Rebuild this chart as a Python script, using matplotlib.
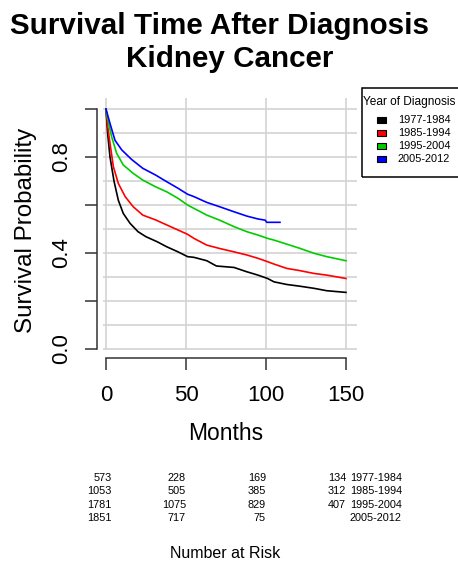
import matplotlib
matplotlib.use('Agg')
import matplotlib.pyplot as plt
from matplotlib.patches import Rectangle
from matplotlib.transforms import blended_transform_factory

plt.rcParams['font.family'] = ['Liberation Sans', 'DejaVu Sans']

# survival curves (months, probability)
months_77 = [0, 1, 2.5, 5, 7.7, 10.8, 15, 20, 25, 32, 38, 45, 51, 55, 63, 69, 80, 88, 95, 101, 105, 113, 121, 130, 138, 150]
surv_77 = [1.0, 0.9, 0.80, 0.70, 0.62, 0.565, 0.524, 0.489, 0.468, 0.447, 0.426, 0.405, 0.385, 0.382, 0.368, 0.346,
           0.340, 0.322, 0.308, 0.294, 0.28, 0.269, 0.262, 0.253, 0.243, 0.236]

months_85 = [0, 1, 2.5, 4.6, 7.7, 12, 17, 23, 31, 38, 45, 51, 55, 63, 71, 80, 88, 95, 101, 105, 113, 121, 130, 138, 150]
surv_85 = [1.0, 0.93, 0.857, 0.76, 0.69, 0.635, 0.593, 0.558, 0.538, 0.517, 0.496, 0.478, 0.461, 0.433, 0.419,
           0.405, 0.392, 0.378, 0.364, 0.354, 0.336, 0.327, 0.315, 0.308, 0.294]

months_95 = [0, 1, 3.5, 6.7, 10.8, 17, 23, 31, 38, 45, 51, 55, 63, 71, 80, 88, 95, 101, 105, 113, 121, 130, 138, 150]
surv_95 = [1.0, 0.96, 0.885, 0.815, 0.767, 0.732, 0.704, 0.676, 0.655, 0.628, 0.60, 0.586, 0.558, 0.537, 0.510,
           0.489, 0.475, 0.461, 0.454, 0.437, 0.42, 0.399, 0.385, 0.368]

months_05 = [0, 2.5, 5.6, 9.8, 16, 23, 31, 38, 45, 51, 55, 63, 71, 80, 88, 95, 99.5, 100.5, 108.75]
surv_05 = [1.0, 0.94, 0.87, 0.83, 0.79, 0.753, 0.725, 0.697, 0.67, 0.645, 0.635, 0.611, 0.593, 0.572, 0.554,
           0.542, 0.537, 0.528, 0.528]

groups = ['1977-1984', '1985-1994', '1995-2004', '2005-2012']
colors = ['black', '#ff0000', '#00cd00', '#0000ff']
curves = [(months_77, surv_77), (months_85, surv_85), (months_95, surv_95), (months_05, surv_05)]

# number at risk table
risk_times = [0, 50, 100, 150]
at_risk = [
    ['573', '228', '169', '134'],
    ['1053', '505', '385', '312'],
    ['1781', '1075', '829', '407'],
    ['1851', '717', '75', ''],
]

x_ticks = [0, 50, 100, 150]
y_ticks = [0.0, 0.2, 0.4, 0.6, 0.8, 1.0]
y_ticklabels = ['0.0', '', '0.4', '', '0.8', '']
y_minor = [0.1, 0.3, 0.5, 0.7, 0.9]

W, H = 458, 563


def fx(px):
    return px / W


def fy(py):
    return 1 - py / H


fig = plt.figure(figsize=(W / 100, H / 100), dpi=100)
ax = fig.add_axes([fx(103), fy(350), (357 - 103) / W, (350 - 98) / H])

for (m, s), c in zip(curves, colors):
    ax.plot(m, s, color=c, lw=1.2)

ax.set_xlim(-1.875, 156.9)
ax.set_ylim(-0.004, 1.046)
ax.set_xticks(x_ticks)
ax.set_xticklabels([str(t) for t in x_ticks])
ax.set_yticks(y_ticks)
ax.set_yticklabels(y_ticklabels)
ax.set_yticks(y_minor, minor=True)

ax.grid(True, which='both', color='#d3d3d3', lw=1.2)
ax.set_axisbelow(True)
ax.tick_params(which='minor', length=0)
ax.tick_params(which='major', direction='out', length=8.6, width=1.1, color='#333333', labelsize=16)
ax.tick_params(axis='y', which='major', pad=9, labelrotation=90)
ax.tick_params(axis='x', which='major', pad=10.5)

for side in ['top', 'right']:
    ax.spines[side].set_visible(False)
ax.spines['left'].set_position(('outward', 4.3))
ax.spines['bottom'].set_position(('outward', 6))
ax.spines['left'].set_bounds(0, 1)
ax.spines['bottom'].set_bounds(0, 150)
for side in ['left', 'bottom']:
    ax.spines[side].set_linewidth(1.1)
    ax.spines[side].set_color('#333333')

# titles and axis labels
fig.text(fx(220), fy(34), 'Survival Time After Diagnosis', fontsize=21.3, fontweight='bold',
         ha='center', va='baseline')
fig.text(fx(230), fy(66.7), 'Kidney Cancer', fontsize=21.3, fontweight='bold', ha='center', va='baseline')
fig.text(fx(26), fy(230), 'Survival Probability', fontsize=17.4, rotation=90, ha='center', va='center')
fig.text(fx(226), fy(440), 'Months', fontsize=16.5, ha='center', va='baseline')

# legend drawn by hand, box runs off the right edge like the original
fig.add_artist(Rectangle((fx(362), fy(177)), (480 - 362) / W, (177 - 88) / H, transform=fig.transFigure,
                         fill=False, edgecolor='black', lw=1.1))
fig.text(fx(363), fy(101.5), 'Year of Diagnosis', fontsize=8.6, ha='left', va='center')
for i, (g, c) in enumerate(zip(groups, colors)):
    yc = 120.3 + i * 12.8
    fig.add_artist(Rectangle((fx(381.3 - 4.6), fy(yc + 2.9)), 9.3 / W, 5.8 / H, transform=fig.transFigure,
                             facecolor=c, edgecolor='black', lw=0.8))
    fig.text(fx(397.7), fy(yc), g, fontsize=7.9, ha='left', va='center')

# number at risk
trans = blended_transform_factory(ax.transData, fig.transFigure)
for i, row in enumerate(at_risk):
    yc = fy(478 + i * 13.3)
    for t, n in zip(risk_times, row):
        ax.text(t + (3.5 if t == 0 else 0), yc, n, transform=trans, fontsize=7.8, ha='right', va='center',
                clip_on=False)
    ax.text(risk_times[-1] + 2.5, yc, groups[i], transform=trans, fontsize=7.8, ha='left', va='center',
            clip_on=False)
fig.text(fx(225), fy(553), 'Number at Risk', fontsize=11.5, ha='center', va='center')

# rotated y tick labels: center them on the ticks once they exist
fig.canvas.draw()
for lab in ax.get_yticklabels():
    lab.set_verticalalignment('center')

fig.savefig('out.png', dpi=100)
